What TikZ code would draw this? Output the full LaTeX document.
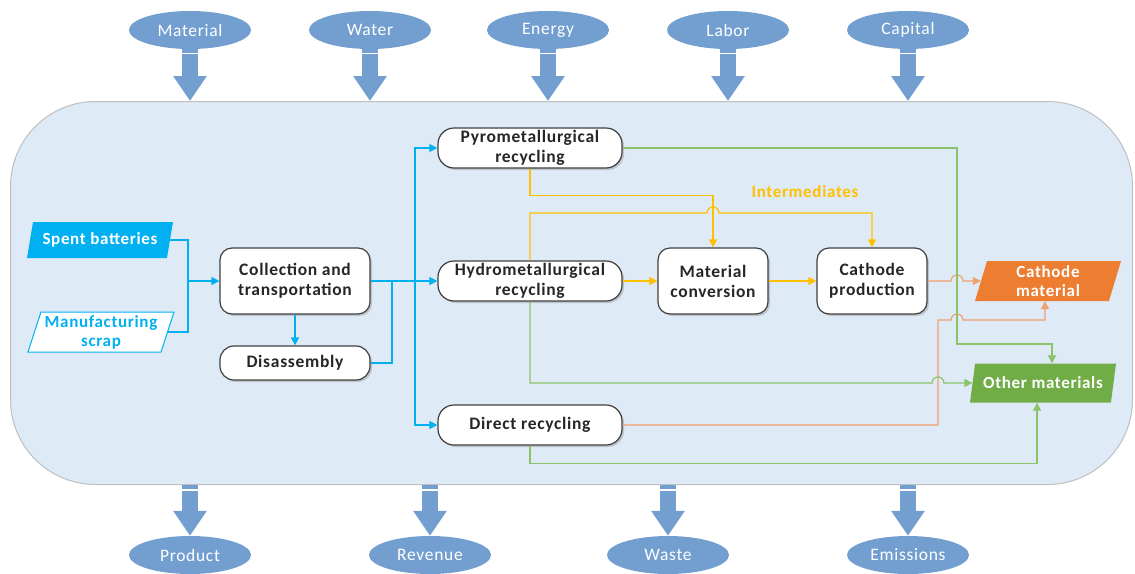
\documentclass[tikz,border=0pt]{standalone}
\usepackage{fontspec}
\setmainfont{Carlito}[LetterSpace=4]
\usetikzlibrary{shapes.geometric,arrows.meta,shadows,calc}

\definecolor{ellblue}{RGB}{114,159,207}
\definecolor{sysfill}{RGB}{222,234,246}
\definecolor{cyanline}{RGB}{0,176,240}
\definecolor{yelline}{RGB}{255,192,0}
\definecolor{orgline}{RGB}{241,160,110}
\definecolor{orgfill}{RGB}{237,125,49}
\definecolor{grnline}{RGB}{140,195,105}
\definecolor{grnfill}{RGB}{112,173,71}

\tikzset{
  res/.style={ellipse, fill=ellblue, text=white, minimum width=122pt, minimum height=38pt,
    inner sep=0pt, font=\fontsize{17.5}{19}\selectfont},
  proc/.style={draw=black!75, line width=1.2pt, fill=white, rounded corners=12pt, align=center,
    inner sep=2pt, text=black!85, font=\bfseries\fontsize{17.5}{20}\selectfont,
    drop shadow={opacity=0.35,shadow xshift=2pt,shadow yshift=-2pt}},
  para/.style={trapezium, trapezium left angle=70, trapezium right angle=110,
    trapezium stretches body, minimum width=146pt, minimum height=38pt, align=center,
    inner xsep=0pt, inner ysep=1pt, font=\bfseries\fontsize{17}{19}\selectfont},
  blk/.style={line width=16pt, ellblue, -{Triangle[width=32pt,length=25pt]}},
  flow/.style={line width=1.2pt, -{Triangle[width=8pt,length=8pt]}},
}

\begin{document}
\begin{tikzpicture}[x=1pt,y=-1pt]
\useasboundingbox (0,0) rectangle (1135,573);
% system box
\node[draw=black!25, line width=1pt, fill=sysfill, rounded corners=85pt,
  minimum width=1122pt, minimum height=383pt] (sys) at (571.5,293) {};

% inputs and outputs
\node[res] (mat) at (190,30) {Material};
\node[res] (wat) at (370,30) {Water};
\node[res] (ene) at (548,30) {Energy};
\node[res] (lab) at (728,30) {Labor};
\node[res] (capi) at (908,30) {Capital};
\node[res] (prod) at (190,555) {Product};
\node[res] (rev) at (430,555) {Revenue};
\node[res] (waste) at (668,555) {Waste};
\node[res] (emis) at (908,555) {Emissions};
\foreach \n in {mat,wat,ene,lab,capi}{
  \draw[blk] (\n.south) -- (\n.south |- sys.north);
  \draw[white,line width=1.2pt] ($(\n.south)+(-9,4)$) -- ++(18,0);
}
\foreach \n in {prod,rev,waste,emis}{
  \draw[blk] (\n.north |- sys.south) -- (\n.north);
  \draw[white,line width=1.2pt] ($(\n.north |- sys.south)+(-9,5)$) -- ++(18,0);
}

% feeds
\node[para, fill=cyanline, text=white, minimum height=36pt] (spent) at (100,240) {Spent batteries};
\node[para, draw=cyanline, line width=1pt, fill=white, text=cyanline, minimum height=40pt]
  (scrap) at (101,332) {Manufacturing\\scrap};

% process steps
\node[proc, minimum width=150pt, minimum height=66pt] (coll) at (295,281) {Collection and\\transportation};
\node[proc, minimum width=150pt, minimum height=34pt, rounded corners=14pt] (dis) at (295,363) {Disassembly};
\node[proc, minimum width=184pt, minimum height=40pt, rounded corners=16pt] (pyro) at (530,148) {Pyrometallurgical\\recycling};
\node[proc, minimum width=184pt, minimum height=40pt, rounded corners=16pt] (hydro) at (530,281) {Hydrometallurgical\\recycling};
\node[proc, minimum width=184pt, minimum height=40pt, rounded corners=16pt] (direct) at (530,425) {Direct recycling};
\node[proc, minimum width=110pt, minimum height=66pt] (matconv) at (713,281) {Material\\conversion};
\node[proc, minimum width=110pt, minimum height=66pt] (cathprod) at (872,281) {Cathode\\production};

% products
\node[para, fill=orgfill, text=white, minimum height=40pt] (cathmat) at (1048,281) {Cathode\\material};
\node[para, fill=grnfill, text=white, minimum height=39pt] (othmat) at (1043,383) {Other materials};
\node[text=yelline, font=\bfseries\fontsize{17}{19}\selectfont] (intm) at (805,192) {Intermediates};

% cyan flows
\coordinate (j1) at (188,281);
\coordinate (j2) at (392,281);
\coordinate (j3) at (415,281);
\draw[cyanline, line width=1.2pt] (spent.east) -| (j1);
\draw[cyanline, line width=1.2pt] (scrap.east) -| (j1);
\draw[flow, cyanline] (j1) -- (coll.west);
\draw[flow, cyanline] (coll) -- (dis);
\draw[flow, cyanline] (coll.east) -- (hydro.west);
\draw[cyanline, line width=1.2pt] (dis.east) -| (j2);
\draw[flow, cyanline] (j3) |- (pyro.west);
\draw[flow, cyanline] (j3) |- (direct.west);

% yellow flows
\draw[flow, yelline] (pyro.south) -- ++(0,27) -| (matconv.north);
\draw[flow, yelline] (hydro.north) -- (530,213) -- (707,213)
  arc[start angle=180,end angle=360,radius=6] -| (cathprod.north);
\draw[flow, yelline] (hydro.east) -- (matconv.west);
\draw[flow, yelline] (matconv.east) -- (cathprod.west);

% orange flows
\draw[flow, orgline] (cathprod.east) -- (951,281)
  arc[start angle=180,end angle=360,radius=6] -- (cathmat.west);
\draw[flow, orgline] (direct.east) -| (938,320) -- (951,320)
  arc[start angle=180,end angle=360,radius=6] -| ($(cathmat.south)+(-3,0)$);

% green flows
\draw[flow, grnline] (pyro.east) -| (957,344) -| ($(othmat.north)+(9,0)$);
\draw[flow, grnline] (hydro.south) |- (932,383)
  arc[start angle=180,end angle=360,radius=6] -- (othmat.west);
\draw[flow, grnline] (direct.south) -- ++(0,18) -| ($(othmat.south)+(-6,0)$);
\end{tikzpicture}
\end{document}
